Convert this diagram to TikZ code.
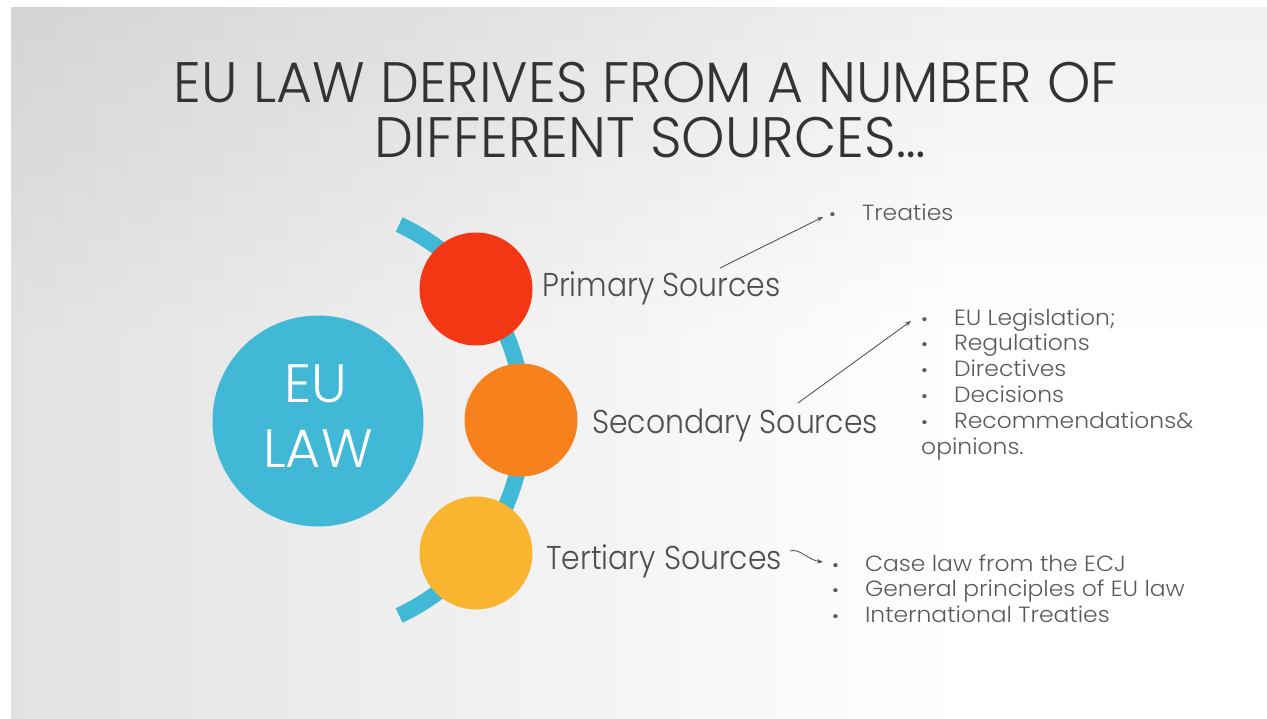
\documentclass[tikz,border=0pt]{standalone}
\usepackage{fontspec}
\setmainfont{Poppins Light}
\newfontfamily\titlefont{Poppins Light}[FakeStretch=0.968]
\newfontfamily\labfont{Poppins Light}[FakeStretch=0.905]
\newfontfamily\listfont{Poppins Light}[FakeStretch=1.065]
\usetikzlibrary{arrows.meta,fadings}
\definecolor{bgL}{HTML}{E2E2E2}
\definecolor{eublue}{HTML}{41B8D5}
\definecolor{cred}{HTML}{F33613}
\definecolor{corange}{HTML}{F7811C}
\definecolor{cyellow}{HTML}{F9B530}
\definecolor{titlecol}{HTML}{333333}
\definecolor{labcol}{HTML}{4F4F4F}
\definecolor{listcol}{HTML}{5A5A5A}
\definecolor{arrcol}{HTML}{555555}
\tikzset{
  srcdisc/.style={circle, inner sep=0pt, minimum size=113pt},
  titletext/.style={anchor=base, inner sep=0pt, text=titlecol, font=\titlefont\fontsize{57}{60}\selectfont},
  srclabel/.style={anchor=base west, inner sep=0pt, text=labcol, font=\labfont\fontsize{33}{36}\selectfont},
  listbox/.style={anchor=base west, inner sep=0pt, text=listcol, font=\listfont\fontsize{22}{25.8}\selectfont},
  pointer/.style={draw=arrcol, line width=0.9pt, -{Stealth[length=6pt,width=4.5pt]}},
}
\newcommand{\bul}{\scalebox{0.8}{•}}
\begin{document}
\begin{tikzpicture}[x=1pt,y=-1pt]
\useasboundingbox (0,0) rectangle (1267,718);
\fill[white] (0,0) rectangle (1267,718);
% background gradient
\shade[left color=bgL, right color=white] (11,7) rectangle (960,718);
\fill[black, opacity=0.06, path fading=south] (11,7) rectangle (1267,340);
% title
\node[titletext] (t1) at (646,102) {EU LAW DERIVES FROM A NUMBER OF};
\node[titletext] (t2) at (650,157) {DIFFERENT SOURCES…};
% arc
\coordinate (ac) at (308,420);
\draw[eublue, line width=16pt] (ac) ++(-65:215.7) arc[start angle=-65, end angle=65, radius=215.7];
% main circle
\node[circle, fill=eublue, minimum size=211pt, inner sep=0pt] (eu) at (318,421) {};
\node[anchor=base, inner sep=0pt, text=white, font=\fontsize{54}{58}\selectfont] (eut) at (316,402) {EU};
\node[anchor=base, inner sep=0pt, text=white, font=\fontsize{54}{58}\selectfont] (lawt) at (318,467) {LAW};
% source discs
\node[srcdisc, fill=cred] (p) at (476,289) {};
\node[srcdisc, fill=corange] (s) at (521,420) {};
\node[srcdisc, fill=cyellow] (t) at (476,553) {};
% labels
\node[srclabel] (lp) at (542,296) {Primary Sources};
\node[srclabel] (ls) at (592,433) {Secondary Sources};
\node[srclabel] (lt) at (546,569) {Tertiary Sources};
% lists
\node[listbox] (lprim) at (829,221) {\begin{tabular}{@{}l@{\hspace{26pt}}l@{}}\bul & Treaties\end{tabular}};
\node[listbox] (lsec) at (921,325) {\begin{tabular}[t]{@{}l@{\hspace{26pt}}l@{}}
\bul & EU Legislation;\\
\bul & Regulations\\
\bul & Directives\\
\bul & Decisions\\
\bul & Recommendations\&\\
\multicolumn{2}{@{}l@{}}{opinions.}
\end{tabular}};
\node[listbox] (lter) at (832,571) {\begin{tabular}[t]{@{}l@{\hspace{26pt}}l@{}}
\bul & Case law from the ECJ\\
\bul & General principles of EU law\\
\bul & International Treaties
\end{tabular}};
% pointers
\coordinate (a1s) at (720,268);
\coordinate (a1e) at (823,217);
\coordinate (a2s) at (798,403);
\coordinate (a2e) at (911,321);
\coordinate (a3s) at (790,551);
\coordinate (a3e) at (823,562);
\draw[pointer] (a1s) -- (a1e);
\draw[pointer] (a2s) -- (a2e);
\draw[pointer] (a3s) .. controls (800,548) and (808,560) .. (a3e);
\end{tikzpicture}
\end{document}
